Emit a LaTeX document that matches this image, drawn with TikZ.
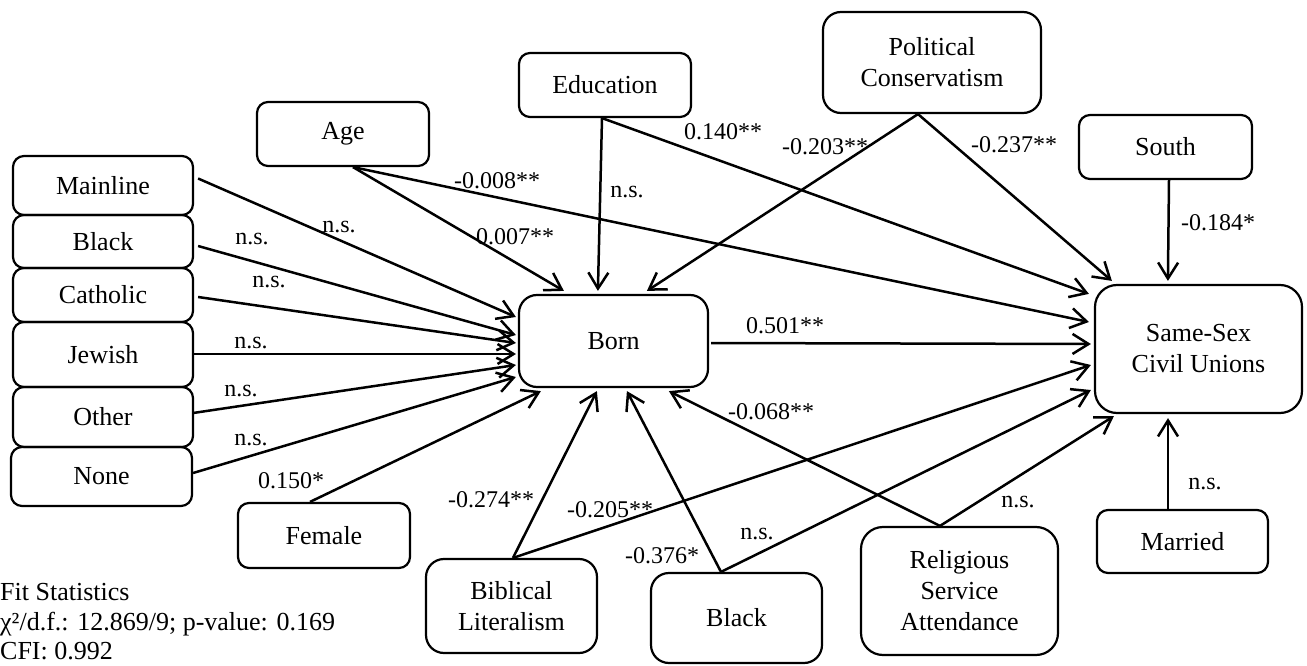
\documentclass[tikz,border=0pt]{standalone}
\usepackage{fontspec}
\setmainfont{Liberation Serif}
\usetikzlibrary{arrows.meta,calc}
\begin{document}
\begin{tikzpicture}[x=1pt,y=-1pt,
  vbox/.style={draw, line width=2.2pt, rounded corners=11pt, inner sep=0pt, align=center, font=\fontsize{26}{31}\selectfont},
  bigbox/.style={vbox, rounded corners=18pt},
  arr/.style={line width=2.5pt, -{Straight Barb[length=16pt,width=20pt,line width=2.5pt]}},
  lbl/.style={font=\fontsize{24}{28}\selectfont, inner sep=0pt},
]
\useasboundingbox (0,0) rectangle (1307,666);

% left column
\node[vbox, minimum width=180pt, minimum height=59pt] (mainline) at (103,185.5) {Mainline};
\node[vbox, minimum width=180pt, minimum height=53pt] (black1) at (103,241.5) {Black};
\node[vbox, minimum width=180pt, minimum height=54pt] (catholic) at (103,295) {Catholic};
\node[vbox, minimum width=180pt, minimum height=65pt] (jewish) at (103,354.5) {Jewish};
\node[vbox, minimum width=180pt, minimum height=60pt] (other) at (103,417) {Other};
\node[vbox, minimum width=181pt, minimum height=59pt] (none) at (101.5,476.5) {None};

% top
\node[vbox, minimum width=172pt, minimum height=64pt] (age) at (343,134) {Age};
\node[vbox, minimum width=172pt, minimum height=64pt] (education) at (605,85) {Education};
\node[bigbox, minimum width=218pt, minimum height=101pt] (political) at (932,62.5) {Political\\Conservatism};
\node[vbox, minimum width=173pt, minimum height=64pt] (south) at (1165.5,147) {South};

% middle
\node[bigbox, minimum width=189pt, minimum height=92pt] (born) at (613.5,341) {Born};
\node[bigbox, rounded corners=22pt, minimum width=207pt, minimum height=128pt] (ss) at (1198.5,349) {Same-Sex\\Civil Unions};

% bottom
\node[vbox, minimum width=172pt, minimum height=65pt] (female) at (324,535.5) {Female};
\node[bigbox, minimum width=171pt, minimum height=94pt] (biblical) at (511.5,606) {Biblical\\Literalism};
\node[bigbox, minimum width=171pt, minimum height=90pt] (black2) at (736.5,618) {Black};
\node[bigbox, rounded corners=22pt, minimum width=197pt, minimum height=128pt] (religious) at (959.5,591) {Religious\\Service\\Attendance};
\node[vbox, minimum width=171pt, minimum height=63pt] (married) at (1182.5,541.5) {Married};

% connectors into Born
\draw[arr] ($(mainline.east)+(4,-7)$) -- ($(born.west)+(-2,-24)$);
\draw[arr] ($(black1.east)+(4,4.5)$) -- ($(born.west)+(-2,-6)$);
\draw[arr] ($(catholic.east)+(4,2)$) -- ($(born.west)+(-2,2)$);
\draw[arr] ($(jewish.east)+(0,-0.5)$) -- ($(born.west)+(-2,13)$);
\draw[arr] ($(other.east)+(-1,-4)$) -- ($(born.west)+(-2,24)$);
\draw[arr] ($(none.east)+(0,-3.5)$) -- ($(born.west)+(-2,36)$);
\draw[arr] ($(female.north)+(-14,0)$) -- ($(born.south west)+(23,3)$);
\draw[arr] ($(age.south)+(10,0)$) -- ($(born.north west)+(46,-3)$);
\draw[arr] ($(education.south)+(-3,0)$) -- ($(born.north west)+(80,-3)$);
\draw[arr] ($(political.south)+(-14,0)$) -- ($(born.north west)+(129,-3)$);
\draw[arr] ($(biblical.north)+(1.5,0)$) -- ($(born.south west)+(79,3)$);
\draw[arr] ($(black2.north)+(-15.5,0)$) -- ($(born.south west)+(109,3)$);
\draw[arr] ($(religious.north)+(-19.5,0)$) -- ($(born.south west)+(151,3)$);

% connectors into Same-Sex Civil Unions
\draw[arr] ($(age.south)+(10,0)$) -- ($(ss.west)+(-5,-27)$);
\draw[arr] ($(education.south)+(-3,0)$) -- ($(ss.north west)+(-5,10)$);
\draw[arr] ($(political.south)+(-14,0)$) -- ($(ss.north west)+(18,-3)$);
\draw[arr] ($(south.south)+(3.5,0)$) -- ($(ss.north west)+(74,-3)$);
\draw[arr] ($(born.east)+(2,2)$) -- ($(ss.west)+(-3,-5)$);
\draw[arr] ($(biblical.north)+(1.5,0)$) -- ($(ss.west)+(-3,16)$);
\draw[arr] ($(black2.north)+(-15.5,0)$) -- ($(ss.west)+(-3,41)$);
\draw[arr] ($(religious.north)+(-19.5,0)$) -- ($(ss.south west)+(20,2)$);
\draw[arr] ($(married.north)+(-14.5,0)$) -- ($(ss.south)+(-30.5,4)$);

% labels
\node[lbl] (l1) at (339,227) {n.s.};
\node[lbl] (l2) at (252,239) {n.s.};
\node[lbl] (l3) at (269,282) {n.s.};
\node[lbl] (l4) at (251,343) {n.s.};
\node[lbl] (l5) at (241,391) {n.s.};
\node[lbl] (l6) at (251,440) {n.s.};
\node[lbl] (l7) at (291,481) {0.150*};
\node[lbl] (l8) at (491,500) {-0.274**};
\node[lbl] (l9) at (610,510) {-0.205**};
\node[lbl] (l10) at (662,556) {-0.376*};
\node[lbl] (l11) at (757,534) {n.s.};
\node[lbl] (l12) at (771,412) {-0.068**};
\node[lbl] (l13) at (1018,502) {n.s.};
\node[lbl] (l14) at (1205,484) {n.s.};
\node[lbl] (l15) at (785,326) {0.501**};
\node[lbl] (l16) at (497,181) {-0.008**};
\node[lbl] (l17) at (515,237) {0.007**};
\node[lbl] (l18) at (627,192) {n.s.};
\node[lbl] (l19) at (723,132) {0.140**};
\node[lbl] (l20) at (825,147) {-0.203**};
\node[lbl] (l21) at (1014,145) {-0.237**};
\node[lbl] (l22) at (1218,223) {-0.184*};

% fit statistics
\node[anchor=base west, inner sep=0pt, font=\fontsize{26}{29}\selectfont] (fit1) at (0,600) {Fit Statistics};
\node[anchor=base west, inner sep=0pt, font=\fontsize{26}{29}\selectfont] (fit2) at (0,630) {χ²/d.f.: 12.869/9; p-value: 0.169};
\node[anchor=base west, inner sep=0pt, font=\fontsize{26}{29}\selectfont] (fit3) at (0,659.5) {CFI: 0.992};
\end{tikzpicture}
\end{document}
